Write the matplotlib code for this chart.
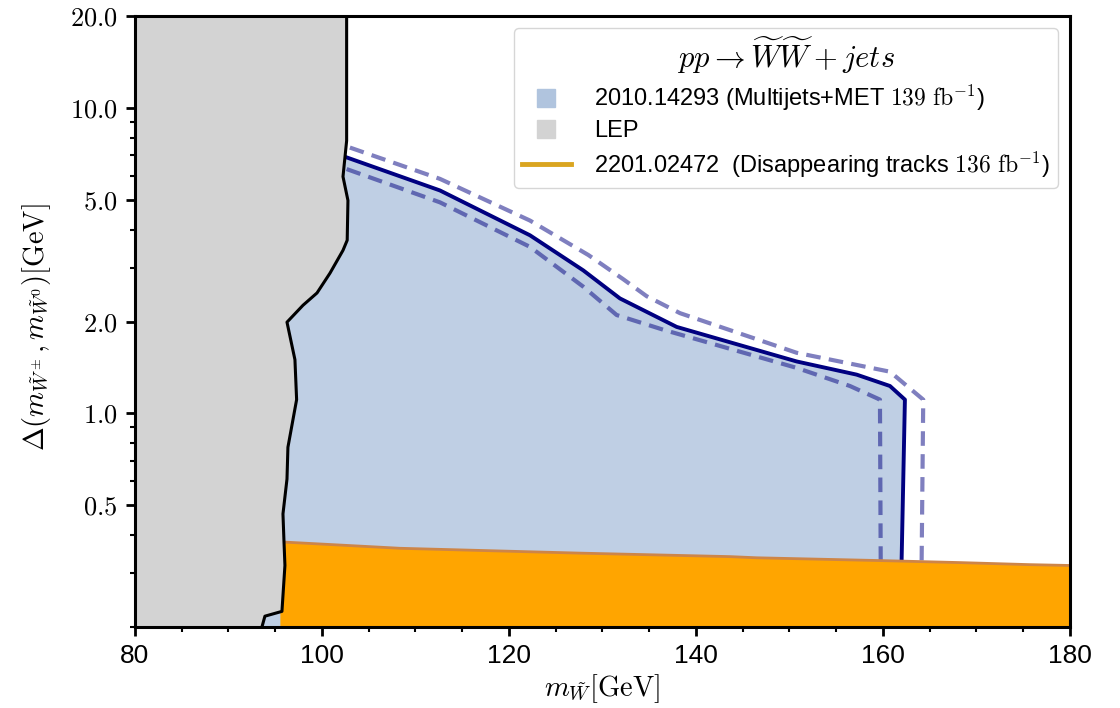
import matplotlib
matplotlib.use("Agg")
import matplotlib.pyplot as plt
from matplotlib.lines import Line2D
from matplotlib.ticker import FixedLocator, FuncFormatter, LogLocator, MultipleLocator, NullFormatter

plt.rcParams['font.family'] = ['Liberation Sans', 'DejaVu Sans']
plt.rcParams['mathtext.fontset'] = 'cm'

# LEP exclusion boundary
lep_mass = [102.64, 102.64, 102.25, 102.78, 102.70, 102.25, 100.86, 99.47, 97.97, 96.26,
            97.11, 97.29, 96.36, 96.26, 95.83, 95.94, 96.04, 95.72, 93.90, 93.58]
lep_dm = [20.0, 7.81, 5.96, 4.98, 3.69, 3.42, 2.88, 2.48, 2.26, 1.99,
          1.50, 1.11, 0.775, 0.61, 0.469, 0.38, 0.318, 0.225, 0.217, 0.20]

# 2010.14293 multijets+MET: observed limit and +-1 sigma bands
mj_mass = [102.64, 112.62, 122.25, 127.95, 131.87, 137.94, 150.77, 157.19, 160.75, 162.35, 162.0, 161.95]
mj_dm = [6.89, 5.37, 3.83, 2.94, 2.38, 1.92, 1.48, 1.34, 1.23, 1.11, 0.334, 0.20]

up_mass = [102.99, 112.62, 122.25, 128.5, 132.23, 134.73, 138.29, 150.77, 160.75, 164.31, 164.14, 164.10]
up_dm = [7.42, 5.86, 4.28, 3.30, 2.75, 2.42, 2.13, 1.58, 1.37, 1.11, 0.334, 0.20]

lo_mass = [102.64, 112.62, 122.25, 127.95, 131.52, 136.5, 150.77, 156.47, 159.68, 159.76, 159.77]
lo_dm = [6.31, 4.91, 3.51, 2.60, 2.10, 1.88, 1.41, 1.23, 1.11, 0.334, 0.20]

# 2201.02472 disappearing tracks
dt_mass = [95.5, 106.2, 108.34, 127.6, 143.6, 146.5, 159.68, 168.24, 175.72, 180.0]
dt_dm = [0.380, 0.365, 0.362, 0.349, 0.340, 0.337, 0.330, 0.325, 0.320, 0.318]

ymin, ymax = 0.2, 20.0

fig = plt.figure(figsize=(11.2, 7.08), dpi=100)
ax = fig.add_axes([0.1205, 0.1144, 0.8348, 0.863])

ax.fill(mj_mass + [mj_mass[-1], 90.0, 90.0], mj_dm + [ymin, ymin, mj_dm[0]],
        color='lightsteelblue', alpha=0.8, lw=0, zorder=1)
ax.plot(up_mass, up_dm, color='navy', alpha=0.5, lw=3, ls=(0, (3.5, 2)), zorder=2)
ax.plot(lo_mass, lo_dm, color='navy', alpha=0.5, lw=3, ls=(0, (3.5, 2)), zorder=2)
ax.plot(mj_mass, mj_dm, color='navy', lw=2.8, zorder=3)

ax.fill_between(dt_mass, ymin, dt_dm, color='orange', lw=0, zorder=4)
ax.plot(dt_mass, dt_dm, color='#cd8548', lw=2.0, zorder=4)

ax.fill_betweenx(lep_dm, 80, lep_mass, color='lightgray', lw=0, zorder=5)
ax.plot(lep_mass, lep_dm, color='black', lw=2.2, zorder=6)

ax.set_yscale('log')
ax.set_xlim(80, 180)
ax.set_ylim(ymin, ymax)

ax.yaxis.set_major_locator(FixedLocator([0.5, 1.0, 2.0, 5.0, 10.0, 20.0]))
ax.yaxis.set_major_formatter(FuncFormatter(lambda v, p: r'$%.1f$' % v))
ax.yaxis.set_minor_locator(LogLocator(base=10, subs=range(2, 10)))
ax.yaxis.set_minor_formatter(NullFormatter())
ax.xaxis.set_major_locator(MultipleLocator(20))
ax.xaxis.set_minor_locator(MultipleLocator(5))

ax.tick_params(which='major', length=6.5, width=2, labelsize=19, pad=6)
ax.tick_params(which='minor', length=3.5, width=1.5)
for sp in ax.spines.values():
    sp.set_linewidth(2.2)
    sp.set_zorder(10)

ax.set_xlabel(r'$m_{\tilde{W}}[\mathrm{GeV}]$', fontsize=20.5, labelpad=3)
ax.set_ylabel(r'$\Delta(m_{\tilde{W}^\pm}, m_{\tilde{W}^0})[\mathrm{GeV}]$', fontsize=20.5)
ax.yaxis.set_label_coords(-0.088, 0.49)

handles = [
    Line2D([], [], marker='s', ls='none', color='lightsteelblue', markersize=13),
    Line2D([], [], marker='s', ls='none', color='lightgray', markersize=13),
    Line2D([], [], color='goldenrod', lw=3.5),
]
labels = [
    r'2010.14293 (Multijets+MET $139\ \mathrm{fb}^{-1}$)',
    'LEP',
    r'2201.02472  (Disappearing tracks $136\ \mathrm{fb}^{-1}$)',
]
leg = ax.legend(handles, labels, loc='upper right', fontsize=17,
                title=r'$pp \rightarrow \widetilde{W}\widetilde{W} + jets$',
                title_fontsize=22, handlelength=2.05, handletextpad=1.0,
                labelspacing=0.3, borderpad=0.35, borderaxespad=0.5)
leg.set_zorder(20)

fig.savefig('out.png', dpi=100)
